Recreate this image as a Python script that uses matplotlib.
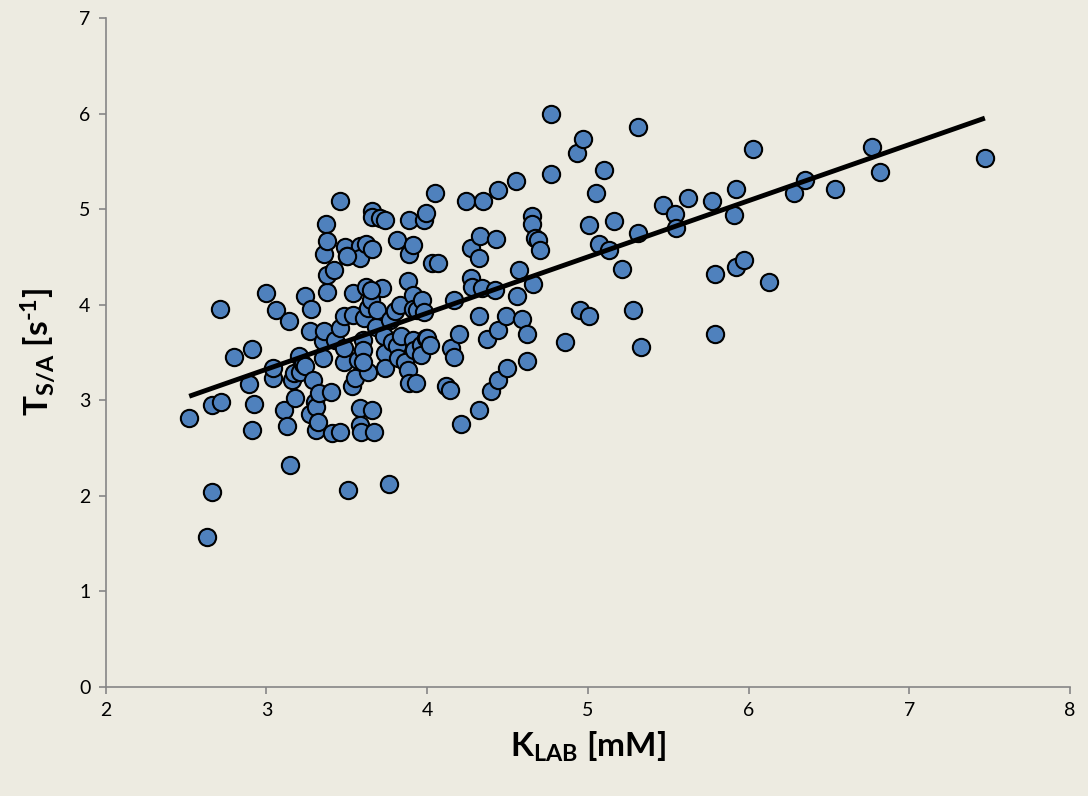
import numpy as np
import matplotlib
matplotlib.use("Agg")
import matplotlib.pyplot as plt

# K_LAB [mM] values
k_lab = [2.52, 2.63, 2.66, 2.66, 2.72, 2.71, 2.80, 2.89, 2.91, 2.91, 2.92, 3.00, 3.04, 3.04, 3.06,
         3.11, 3.13, 3.14, 3.15, 3.16, 3.17, 3.18, 3.20, 3.21, 3.23, 3.24, 3.24, 3.27, 3.27, 3.28,
         3.29, 3.30, 3.31, 3.31, 3.32, 3.33, 3.35, 3.35, 3.36, 3.36, 3.37, 3.38, 3.38, 3.38, 3.42,
         3.41, 3.40, 3.43, 3.46, 3.46, 3.46, 3.48, 3.49, 3.48, 3.50, 3.51, 3.53, 3.54, 3.54, 3.55,
         3.57, 3.58, 3.58, 3.58, 3.58, 3.59, 3.60, 3.60, 3.61, 3.62, 3.62, 3.63, 3.63, 3.65, 3.66,
         3.66, 3.66, 3.67, 3.68, 3.69, 3.71, 3.72, 3.74, 3.73, 3.74, 3.74, 3.76, 3.77, 3.78, 3.80,
         3.81, 3.81, 3.82, 3.83, 3.84, 3.86, 3.88, 3.88, 3.89, 3.89, 3.91, 3.89, 3.91, 3.91, 3.91,
         3.92, 3.93, 3.94, 3.96, 3.96, 3.97, 3.98, 3.99, 3.98, 3.99, 4.00, 4.02, 4.03, 4.05, 4.07,
         4.12, 4.14, 4.15, 4.17, 4.17, 4.20, 4.21, 4.24, 4.27, 4.27, 4.28, 4.32, 4.32, 4.33, 4.32,
         4.34, 4.35, 4.37, 4.40, 4.42, 4.44, 4.43, 4.44, 4.44, 4.49, 4.50, 4.55, 4.56, 4.57, 4.59,
         4.62, 4.62, 4.65, 4.65, 4.66, 4.67, 4.69, 4.70, 4.77, 4.77, 4.86, 4.93, 4.97, 4.95, 5.01,
         5.01, 5.05, 5.07, 5.10, 5.13, 5.16, 5.21, 5.28, 5.31, 5.31, 5.33, 5.47, 5.54, 5.55, 5.62,
         5.77, 5.79, 5.79, 5.91, 5.92, 5.92, 5.97, 6.03, 6.13, 6.28, 6.35, 6.54, 6.77, 6.82, 7.47,
         3.48, 3.60, 3.66, 3.50, 3.65]

# T_S/A [s^-1] values
t_sa = [2.81, 1.57, 2.04, 2.95, 2.98, 3.95, 3.45, 3.17, 3.54, 2.69, 2.96, 4.12, 3.23, 3.34, 3.94,
        2.90, 2.73, 3.83, 2.32, 3.21, 3.28, 3.02, 3.46, 3.30, 3.38, 4.09, 3.36, 2.86, 3.72, 3.95,
        3.21, 2.98, 2.69, 2.93, 2.77, 3.08, 3.62, 3.44, 3.72, 4.53, 4.84, 4.67, 4.13, 4.31, 4.36,
        2.66, 3.09, 3.63, 5.09, 2.67, 3.76, 3.88, 4.60, 3.40, 4.51, 2.06, 3.15, 4.12, 3.89, 3.23,
        3.42, 4.61, 4.49, 2.92, 2.74, 2.67, 3.63, 3.53, 3.86, 4.18, 4.63, 3.97, 3.30, 4.05, 4.98,
        4.92, 2.90, 2.67, 3.77, 3.94, 4.91, 4.17, 4.89, 3.67, 3.49, 3.34, 2.12, 3.84, 3.61, 3.93,
        4.68, 3.57, 3.44, 4.00, 3.67, 3.40, 3.32, 4.25, 4.53, 4.89, 4.10, 3.18, 3.95, 4.62, 3.63,
        3.53, 3.18, 3.94, 3.58, 3.47, 4.05, 4.89, 4.96, 3.92, 3.65, 3.65, 3.58, 4.44, 5.17, 4.44,
        3.15, 3.11, 3.55, 4.05, 3.45, 3.69, 2.75, 5.08, 4.59, 4.28, 4.19, 4.49, 3.88, 4.72, 2.90,
        4.17, 5.08, 3.64, 3.10, 4.15, 5.20, 4.69, 3.73, 3.21, 3.88, 3.34, 5.29, 4.09, 4.36, 3.85,
        3.69, 3.41, 4.93, 4.84, 4.22, 4.70, 4.68, 4.57, 6.00, 5.37, 3.61, 5.59, 5.73, 3.94, 3.88,
        4.83, 5.17, 4.64, 5.41, 4.57, 4.88, 4.37, 3.94, 5.86, 4.75, 3.56, 5.04, 4.95, 4.80, 5.12,
        5.08, 4.32, 3.69, 4.94, 5.21, 4.39, 4.47, 5.63, 4.24, 5.17, 5.30, 5.21, 5.65, 5.39, 5.54,
        3.55, 3.40, 4.58, 4.51, 4.15]

# Linear trendline
trend_slope = 0.588
trend_intercept = 1.56
trend_x = [2.52, 7.47]

x_ticks = [2, 3, 4, 5, 6, 7, 8]
y_ticks = [0, 1, 2, 3, 4, 5, 6, 7]

plt.rcParams['font.family'] = ['Lato', 'DejaVu Sans']
plt.rcParams['mathtext.fontset'] = 'custom'
plt.rcParams['mathtext.rm'] = 'Lato'
plt.rcParams['mathtext.bf'] = 'Lato:bold'

bg = '#EDEBE1'
fig = plt.figure(figsize=(10.88, 7.96), dpi=100, facecolor=bg)
ax = fig.add_axes([0.0971, 0.137, 0.8864, 0.8404])
ax.set_facecolor(bg)

ax.scatter(k_lab, t_sa, s=155, facecolor='#4F81BD', edgecolor='black',
           linewidths=1.5, zorder=3)

tx = np.array(trend_x)
ax.plot(tx, trend_slope * tx + trend_intercept, color='black', lw=3.5, zorder=4,
        solid_capstyle='butt')

ax.set_xlim(2, 8)
ax.set_ylim(0, 7)
ax.set_xticks(x_ticks)
ax.set_yticks(y_ticks)
ax.set_xticklabels([str(v) for v in x_ticks])
ax.set_yticklabels([str(v) for v in y_ticks])

for side in ['top', 'right']:
    ax.spines[side].set_visible(False)
for side in ['left', 'bottom']:
    ax.spines[side].set_color('#868686')
    ax.spines[side].set_linewidth(1.2)
ax.tick_params(axis='both', direction='out', length=5, width=1.2, color='#868686',
               labelsize=14, labelcolor='black', pad=6)

ax.set_xlabel(r'$\mathbf{K_{LAB}}$ $\mathbf{[mM]}$', fontsize=24, labelpad=8)
ax.set_ylabel('$\\mathbf{T_{S/A}}$ $\\mathbf{[s^{\u20101}]}$', fontsize=24, labelpad=16)

fig.savefig('out.png', dpi=100, facecolor=bg)
